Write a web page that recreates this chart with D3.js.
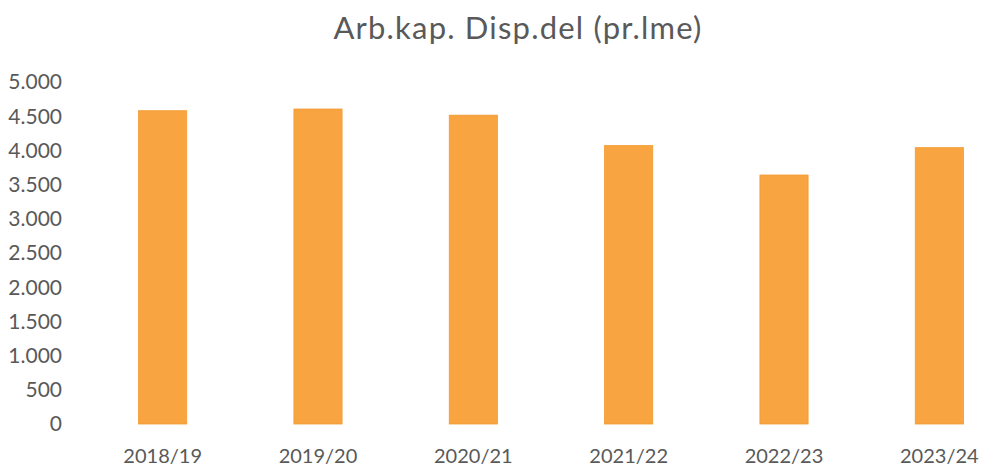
<!DOCTYPE html>
<html lang="en">

<head>
    <meta charset="utf-8">
    <title>Arb.kap. Disp.del</title>
    <script src="https://d3js.org/d3.v7.min.js"></script>
    <style>
        body { margin: 0; background: #fff; }
        text { font-family: Lato, "Open Sans", sans-serif; fill: #595959; }
    </style>
</head>

<body>
    <script>
        // chart data
        const years = ["2018/19", "2019/20", "2020/21", "2021/22", "2022/23", "2023/24"];
        const values = [4580, 4605, 4515, 4070, 3640, 4040];
        const yTicks = [0, 500, 1000, 1500, 2000, 2500, 3000, 3500, 4000, 4500, 5000];

        const width = 984;
        const height = 467;

        const svg = d3.select("body")
            .append("svg")
            .attr("width", width)
            .attr("height", height);

        // scales
        const x = d3.scaleBand()
            .domain(years)
            .range([85, 1017])
            .paddingInner(0.69)
            .paddingOuter(0.345);

        const y = d3.scaleLinear()
            .domain([0, 5000])
            .range([424, 82]);

        // title
        svg.append("text")
            .attr("x", 518)
            .attr("y", 39)
            .attr("text-anchor", "middle")
            .attr("font-size", 31)
            .attr("letter-spacing", 1.2)
            .text("Arb.kap. Disp.del (pr.lme)");

        // y axis labels (no line)
        const fmt = d => d3.format(",")(d).replace(/,/g, ".");
        svg.selectAll(".ylab")
            .data(yTicks)
            .enter()
            .append("text")
            .attr("class", "ylab")
            .attr("x", 62)
            .attr("y", d => y(d))
            .attr("dy", "0.35em")
            .attr("text-anchor", "end")
            .attr("font-size", 21)
            .text(fmt);

        // bars
        svg.selectAll("rect")
            .data(values)
            .enter()
            .append("rect")
            .attr("x", (d, i) => x(years[i]))
            .attr("y", d => y(d))
            .attr("width", x.bandwidth())
            .attr("height", d => y(0) - y(d))
            .attr("fill", "#f8a440")
            .attr("stroke", "#f29a2e")
            .attr("stroke-width", 0.8);

        // x labels
        svg.selectAll(".xlab")
            .data(years)
            .enter()
            .append("text")
            .attr("class", "xlab")
            .attr("x", d => x(d) + x.bandwidth() / 2)
            .attr("y", 463)
            .attr("text-anchor", "middle")
            .attr("font-size", 20)
            .text(d => d);
    </script>
</body>

</html>
